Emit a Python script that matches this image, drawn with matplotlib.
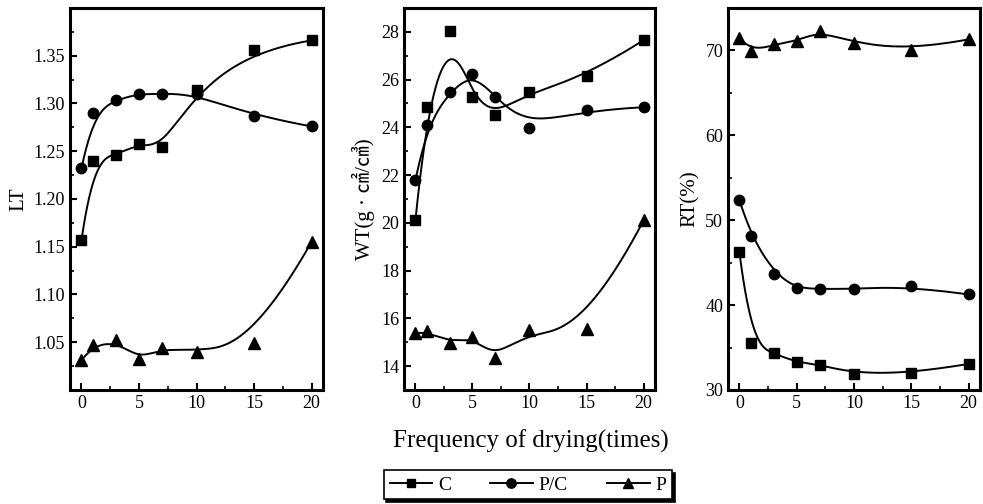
import numpy as np
import matplotlib.pyplot as plt
from matplotlib.ticker import MultipleLocator

plt.rcParams['font.family'] = ['Liberation Serif', 'Noto Sans CJK SC', 'DejaVu Sans']
plt.rcParams['mathtext.fontset'] = 'stix'

# drying frequency (times)
x = [0, 1, 3, 5, 7, 10, 15, 20]

# LT
lt_c = [1.157, 1.240, 1.246, 1.258, 1.254, 1.314, 1.356, 1.366]
lt_pc = [1.232, 1.290, 1.304, 1.310, 1.310, 1.310, 1.287, 1.276]
lt_p = [1.031, 1.047, 1.052, 1.032, 1.044, 1.040, 1.049, 1.155]

# WT
wt_c = [20.1, 24.87, 28.03, 25.29, 24.52, 25.5, 26.14, 27.65]
wt_pc = [21.78, 24.1, 25.5, 26.25, 25.29, 23.96, 24.73, 24.84]
wt_p = [15.38, 15.45, 14.95, 15.24, 14.32, 15.52, 15.55, 20.1]

# RT (%)
rt_c = [46.2, 35.5, 34.3, 33.26, 33.0, 31.9, 31.96, 33.07]
rt_pc = [52.35, 48.1, 43.7, 42.0, 41.9, 41.9, 42.2, 41.25]
rt_p = [71.45, 69.9, 70.7, 71.1, 72.3, 70.85, 70.05, 71.3]

series_names = ['C', 'P/C', 'P']
markers = ['s', 'o', '^']
msizes = [6.5, 7.5, 8]


def bspline(px, py, num=300):
    # clamped cubic B-spline using the data points as control points
    px = np.asarray(px, float)
    py = np.asarray(py, float)
    n = len(px) - 1
    p = 3
    knots = np.concatenate([np.zeros(p), np.arange(n - p + 2), np.full(p, n - p + 1)]).astype(float)
    t = np.linspace(0, n - p + 1, num)
    t[-1] -= 1e-9
    # Cox-de Boor
    N = np.zeros((num, len(knots) - 1))
    for i in range(len(knots) - 1):
        N[:, i] = (t >= knots[i]) & (t < knots[i + 1])
    for k in range(1, p + 1):
        Nn = np.zeros((num, len(knots) - 1 - k))
        for i in range(len(knots) - 1 - k):
            a = 0.0
            b = 0.0
            d1 = knots[i + k] - knots[i]
            d2 = knots[i + k + 1] - knots[i + 1]
            if d1 > 0:
                a = (t - knots[i]) / d1 * N[:, i]
            if d2 > 0:
                b = (knots[i + k + 1] - t) / d2 * N[:, i + 1]
            Nn[:, i] = a + b
        N = Nn
    return N @ px, N @ py


fig = plt.figure(figsize=(9.83, 5.04), dpi=100)

panels = [
    ([0.0712, 0.2262, 0.2574, 0.758], [lt_c, lt_pc, lt_p], 'LT', (1.0, 1.40), 0.05, 0.025),
    ([0.4110, 0.2262, 0.2553, 0.758], [wt_c, wt_pc, wt_p], 'WT(g · ㎠/㎤)', (13, 29), 2, 1),
    ([0.7406, 0.2262, 0.2564, 0.758], [rt_c, rt_pc, rt_p], 'RT(%)', (30, 75), 10, 5),
]

handles = []
for rect, data, ylab, ylim, major, minor in panels:
    ax = fig.add_axes(rect)
    handles = []
    for vals, m, ms, name in zip(data, markers, msizes, series_names):
        sx, sy = bspline(x, vals)
        ax.plot(sx, sy, color='black', lw=1.4)
        ax.plot(x, vals, linestyle='none', marker=m, ms=ms, color='black')
        h, = ax.plot([], [], color='black', lw=1.4, marker=m, ms=ms * 0.9, label=name)
        handles.append(h)
    ax.set_xlim(-1, 21)
    ax.set_ylim(*ylim)
    ax.xaxis.set_major_locator(MultipleLocator(5))
    ax.xaxis.set_minor_locator(MultipleLocator(2.5))
    ax.yaxis.set_major_locator(MultipleLocator(major))
    ax.yaxis.set_minor_locator(MultipleLocator(minor))
    ax.tick_params(which='both', direction='in', top=False, right=False, labelsize=13)
    ax.tick_params(which='major', length=5, width=1.5)
    ax.tick_params(which='minor', length=3, width=1.2)
    for s in ax.spines.values():
        s.set_linewidth(2.2)
    ax.set_ylabel(ylab, fontsize=15, labelpad=4)
    if ylab == 'LT':
        ax.set_yticks(np.arange(1.05, 1.36, 0.05))
        ax.set_yticklabels(['%.2f' % v for v in np.arange(1.05, 1.36, 0.05)])

fig.text(0.540, 0.125, 'Frequency of drying(times)', ha='center', va='center', fontsize=18)

leg = fig.legend(handles=handles, loc='center', bbox_to_anchor=(0.537, 0.038), ncol=3,
                 fontsize=14, frameon=True, fancybox=False,
                 shadow={'color': 'black', 'alpha': 1.0, 'ox': 2, 'oy': -2},
                 handlelength=2.2, columnspacing=2.0, handletextpad=0.3, borderpad=0.3,
                 borderaxespad=0.0)
leg.get_frame().set_edgecolor('black')
leg.get_frame().set_linewidth(1.2)

fig.savefig('out.png', dpi=100)
